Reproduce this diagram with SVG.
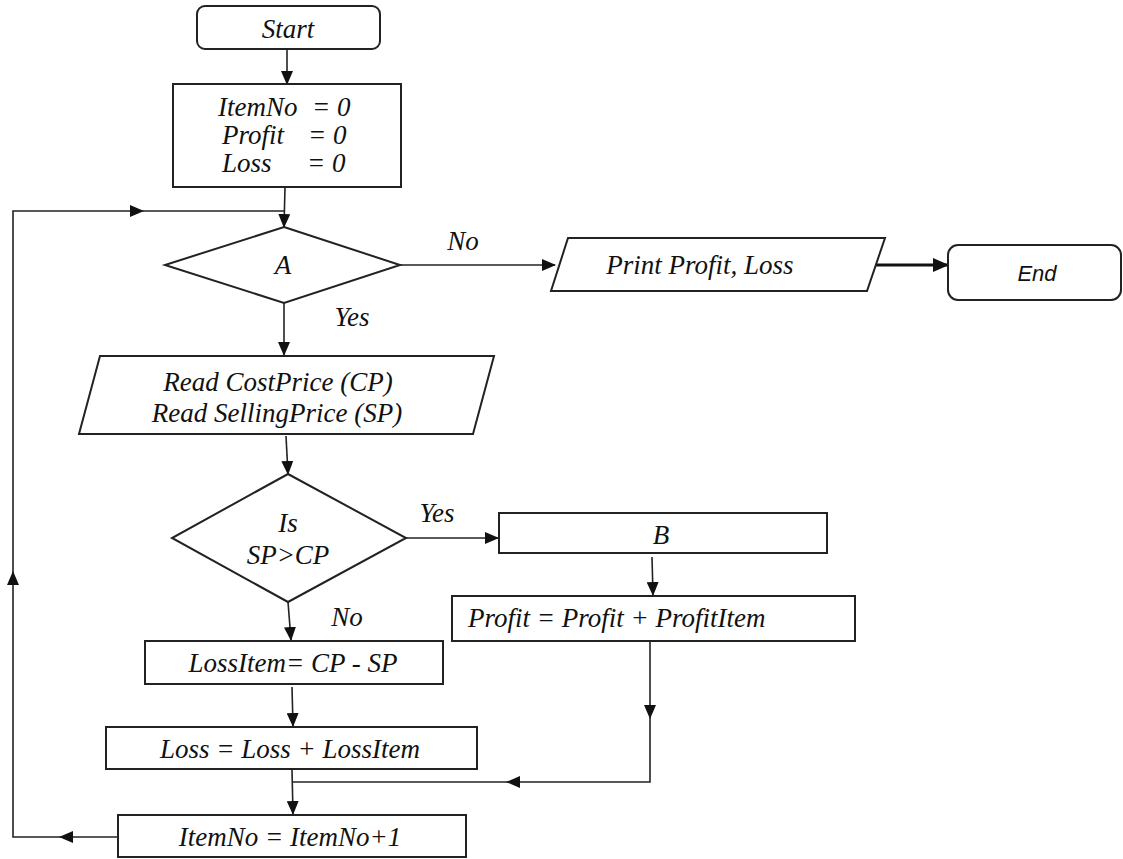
<svg xmlns="http://www.w3.org/2000/svg" width="1123" height="859" viewBox="0 0 1123 859">
<defs>
<style>
.n{fill:#fff;stroke:#222;stroke-width:2}
.t{font-family:"Liberation Serif","Times New Roman",serif;font-style:italic;font-size:27px;fill:#111;text-anchor:middle}
.l{text-anchor:start}
.s{font-family:"Liberation Sans",Arial,sans-serif;font-style:italic;font-size:22px;fill:#111;text-anchor:middle}
.c{fill:none;stroke:#222;stroke-width:1.6}
.k{fill:none;stroke:#111;stroke-width:3.2}
</style>
<marker id="a" markerWidth="14" markerHeight="12" refX="13" refY="6" orient="auto" markerUnits="userSpaceOnUse">
<path d="M0,0 L14,6 L0,12 Z" fill="#111"/>
</marker>
<marker id="b" markerWidth="16" markerHeight="14" refX="15" refY="7" orient="auto" markerUnits="userSpaceOnUse">
<path d="M0,0 L16,7 L0,14 Z" fill="#111"/>
</marker>
</defs>
<rect width="1123" height="859" fill="#fff"/>
<g id="connectors">
<line class="c" x1="287" y1="49" x2="287" y2="84" marker-end="url(#a)"/>
<line class="c" x1="285" y1="187" x2="284" y2="227" marker-end="url(#a)"/>
<path class="c" d="M118,837 H60" marker-end="url(#a)"/>
<path class="c" d="M62,837 H13 V572" marker-end="url(#a)"/>
<path class="c" d="M13,574 V211 H143" marker-end="url(#a)"/>
<path class="c" d="M141,211 H285"/>
<line class="c" x1="400" y1="265" x2="555" y2="265" marker-end="url(#a)"/>
<line class="k" x1="868" y1="265" x2="948" y2="265" marker-end="url(#b)"/>
<line class="c" x1="284" y1="303" x2="284" y2="355" marker-end="url(#a)"/>
<line class="c" x1="286" y1="436" x2="288" y2="474" marker-end="url(#a)"/>
<line class="c" x1="406" y1="538" x2="498" y2="538" marker-end="url(#a)"/>
<line class="c" x1="652" y1="557" x2="653" y2="595" marker-end="url(#a)"/>
<path class="c" d="M650,641 V718" marker-end="url(#a)"/>
<path class="c" d="M650,716 V782 H507" marker-end="url(#a)"/>
<path class="c" d="M509,782 H292"/>
<line class="c" x1="288" y1="602" x2="291" y2="640" marker-end="url(#a)"/>
<line class="c" x1="292" y1="687" x2="293" y2="726" marker-end="url(#a)"/>
<line class="c" x1="292" y1="770" x2="293" y2="814" marker-end="url(#a)"/>
<text class="t" x="463" y="250">No</text>
<text class="t" x="352" y="326">Yes</text>
<text class="t" x="437" y="522">Yes</text>
<text class="t" x="347" y="626">No</text>
</g>
<g id="start">
<rect class="n" x="197" y="6" width="183" height="43" rx="8"/>
<text class="t" x="288" y="38">Start</text>
</g>
<g id="init">
<rect class="n" x="173" y="84" width="228" height="103"/>
<text class="t l" x="218" y="116">ItemNo</text>
<text class="t l" x="312" y="116">= 0</text>
<text class="t l" x="222" y="144">Profit</text>
<text class="t l" x="308" y="144">= 0</text>
<text class="t l" x="222" y="172">Loss</text>
<text class="t l" x="307" y="172">= 0</text>
</g>
<g id="decisionA">
<polygon class="n" points="284,227 400,265 284,303 165,265"/>
<text class="t" x="283" y="274">A</text>
</g>
<g id="print">
<polygon class="n" points="568,238 885,238 867,291 551,291"/>
<text class="t" x="700" y="274">Print Profit, Loss</text>
</g>
<g id="end">
<rect class="n" x="948" y="245" width="173" height="55" rx="10"/>
<text class="s" x="1037" y="281">End</text>
</g>
<g id="read">
<polygon class="n" points="100,356 494,356 473,434 79,434"/>
<text class="t" x="278" y="391">Read CostPrice (CP)</text>
<text class="t" x="277" y="422">Read SellingPrice (SP)</text>
</g>
<g id="decisionSP">
<polygon class="n" points="288,474 406,538 288,602 172,538"/>
<text class="t" x="288" y="532">Is</text>
<text class="t" x="288" y="564">SP&gt;CP</text>
</g>
<g id="boxB">
<rect class="n" x="499" y="513" width="328" height="40"/>
<text class="t" x="661" y="544">B</text>
</g>
<g id="profit">
<rect class="n" x="452" y="596" width="403" height="45"/>
<text class="t l" x="468" y="627">Profit = Profit + ProfitItem</text>
</g>
<g id="lossitem">
<rect class="n" x="145" y="641" width="298" height="43"/>
<text class="t" x="293" y="672">LossItem= CP - SP</text>
</g>
<g id="loss">
<rect class="n" x="106" y="727" width="371" height="42"/>
<text class="t" x="290" y="758">Loss = Loss + LossItem</text>
</g>
<g id="itemno">
<rect class="n" x="118" y="815" width="348" height="42"/>
<text class="t" x="290" y="846">ItemNo = ItemNo+1</text>
</g>
</svg>
